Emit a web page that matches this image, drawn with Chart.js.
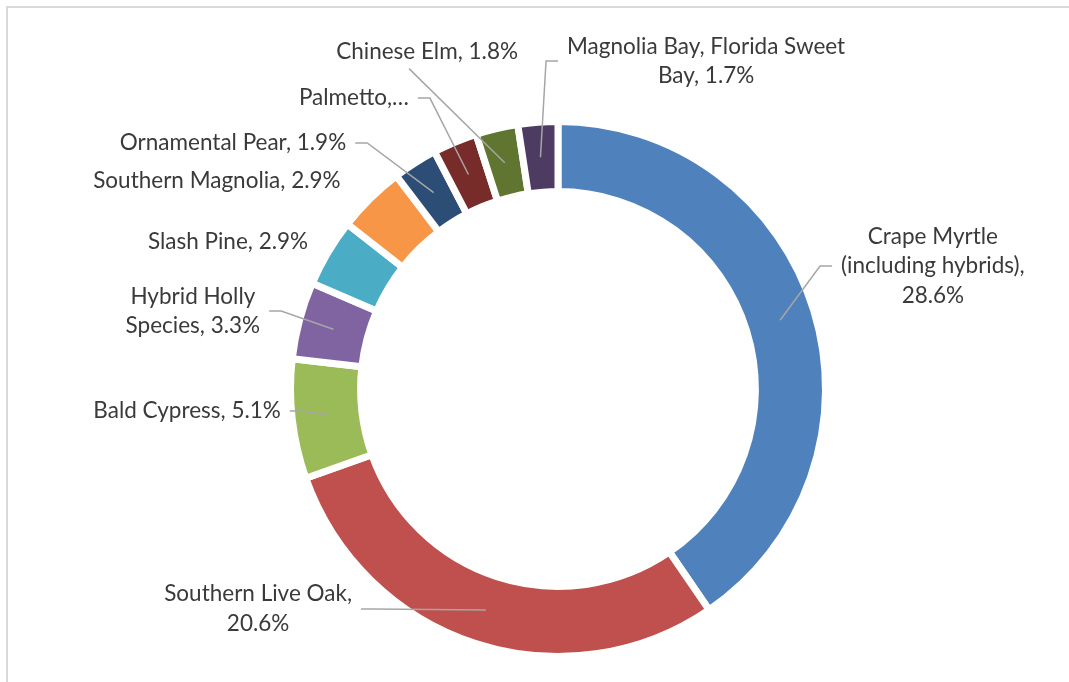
<!DOCTYPE html>
<html>
<head>
<meta charset="utf-8">
<script src="https://cdn.jsdelivr.net/npm/chart.js@4/dist/chart.umd.min.js"></script>
<style>
html, body { margin:0; padding:0; background:#fff; overflow:hidden; }
#wrap { position:relative; width:1069px; height:682px; overflow:hidden; }
#frame { position:absolute; left:6px; top:6px; width:2000px; height:2000px; border:2px solid #d9d9d9; }
canvas { position:absolute; left:0; top:0; }
</style>
</head>
<body>
<div id="wrap">
<div id="frame"></div>
<canvas id="treeChart" width="1069" height="682"></canvas>
</div>
<script>

const species = ["Crape Myrtle (including hybrids)", "Southern Live Oak", "Bald Cypress", "Hybrid Holly Species",
    "Slash Pine", "Southern Magnolia", "Ornamental Pear", "Palmetto", "Chinese Elm", "Magnolia Bay, Florida Sweet Bay"]
const shares = [28.6, 20.6, 5.1, 3.3, 2.9, 2.9, 1.9, 1.9, 1.8, 1.7]

// how each data label is broken into lines, {v} is the value
const labelLines = [
    ["Crape Myrtle", "(including hybrids),", "{v}%"],
    ["Southern Live Oak,", "{v}%"],
    ["Bald Cypress, {v}%"],
    ["Hybrid Holly", "Species, {v}%"],
    ["Slash Pine, {v}%"],
    ["Southern Magnolia, {v}%"],
    ["Ornamental Pear, {v}%"],
    ["Palmetto,\u2026"],
    ["Chinese Elm, {v}%"],
    ["Magnolia Bay, Florida Sweet", "Bay, {v}%"]
]

const colors = ["#4F81BD", "#C0504D", "#9BBB59", "#8064A2", "#4BACC6", "#F79646", "#2C4D75", "#772C2A", "#5F7530", "#4D3B62"]

// label centres, in ring radii from the middle of the doughnut
const labelPos = [[1.42, -0.466], [-1.136, 0.833], [-1.405, 0.083], [-1.383, -0.295], [-1.25, -0.557],
    [-1.292, -0.788], [-1.231, -0.932], [-0.773, -1.102], [-0.496, -1.277], [0.561, -1.242]]
const leaderSide = ["left", "right", "right", "right", null, null, "right", "right", "bottom", "left"]

const ringBorder = 7

const labelPlugin = {
    id: "sliceLabels",
    afterDatasetsDraw(chart){
        const ctx = chart.ctx
        const arcs = chart.getDatasetMeta(0).data
        ctx.save()
        ctx.font = "22.5px Lato"
        ctx.textAlign = "center"
        ctx.textBaseline = "middle"
        const lh = 29.5

        arcs.forEach(function(arc, i){
            const r = arc.outerRadius - ringBorder / 2
            const cx = arc.x + labelPos[i][0] * r
            const cy = arc.y + labelPos[i][1] * r
            const lines = labelLines[i].map(t => t.replace("{v}", shares[i].toFixed(1)))

            let w = 0
            lines.forEach(t => { w = Math.max(w, ctx.measureText(t).width) })

            ctx.fillStyle = "#3a3a3a"
            lines.forEach(function(t, k){
                ctx.fillText(t, cx, cy + (k - (lines.length - 1) / 2) * lh)
            })

            const side = leaderSide[i]
            if(side){
                const p = arc.getCenterPoint()
                ctx.strokeStyle = "#a6a6a6"
                ctx.lineWidth = 1.5
                ctx.beginPath()
                if(side == "bottom"){
                    ctx.moveTo(cx - 18, cy + lines.length * lh / 2 + 2)
                } else {
                    const dir = side == "left" ? -1 : 1
                    const sx = cx + dir * (w / 2 + 9)
                    ctx.moveTo(sx, cy)
                    ctx.lineTo(sx + dir * 12, cy)
                }
                ctx.lineTo(p.x, p.y)
                ctx.stroke()
            }
        })
        ctx.restore()
    }
}

new Chart(document.getElementById("treeChart"), {
    type: "doughnut",
    data: {
        labels: species,
        datasets: [{
            data: shares,
            backgroundColor: colors,
            borderColor: "#ffffff",
            borderWidth: ringBorder,
            hoverBorderWidth: ringBorder,
            hoverOffset: 0,
            offset: 0
        }]
    },
    options: {
        responsive: false,
        animation: false,
        devicePixelRatio: 1,
        cutout: "73.8%",
        layout: {
            padding: {top: 118, bottom: 22, left: 258, right: 211}
        },
        plugins: {
            legend: {display: false},
            tooltip: {enabled: false}
        }
    },
    plugins: [labelPlugin]
})

</script>
</body>
</html>
